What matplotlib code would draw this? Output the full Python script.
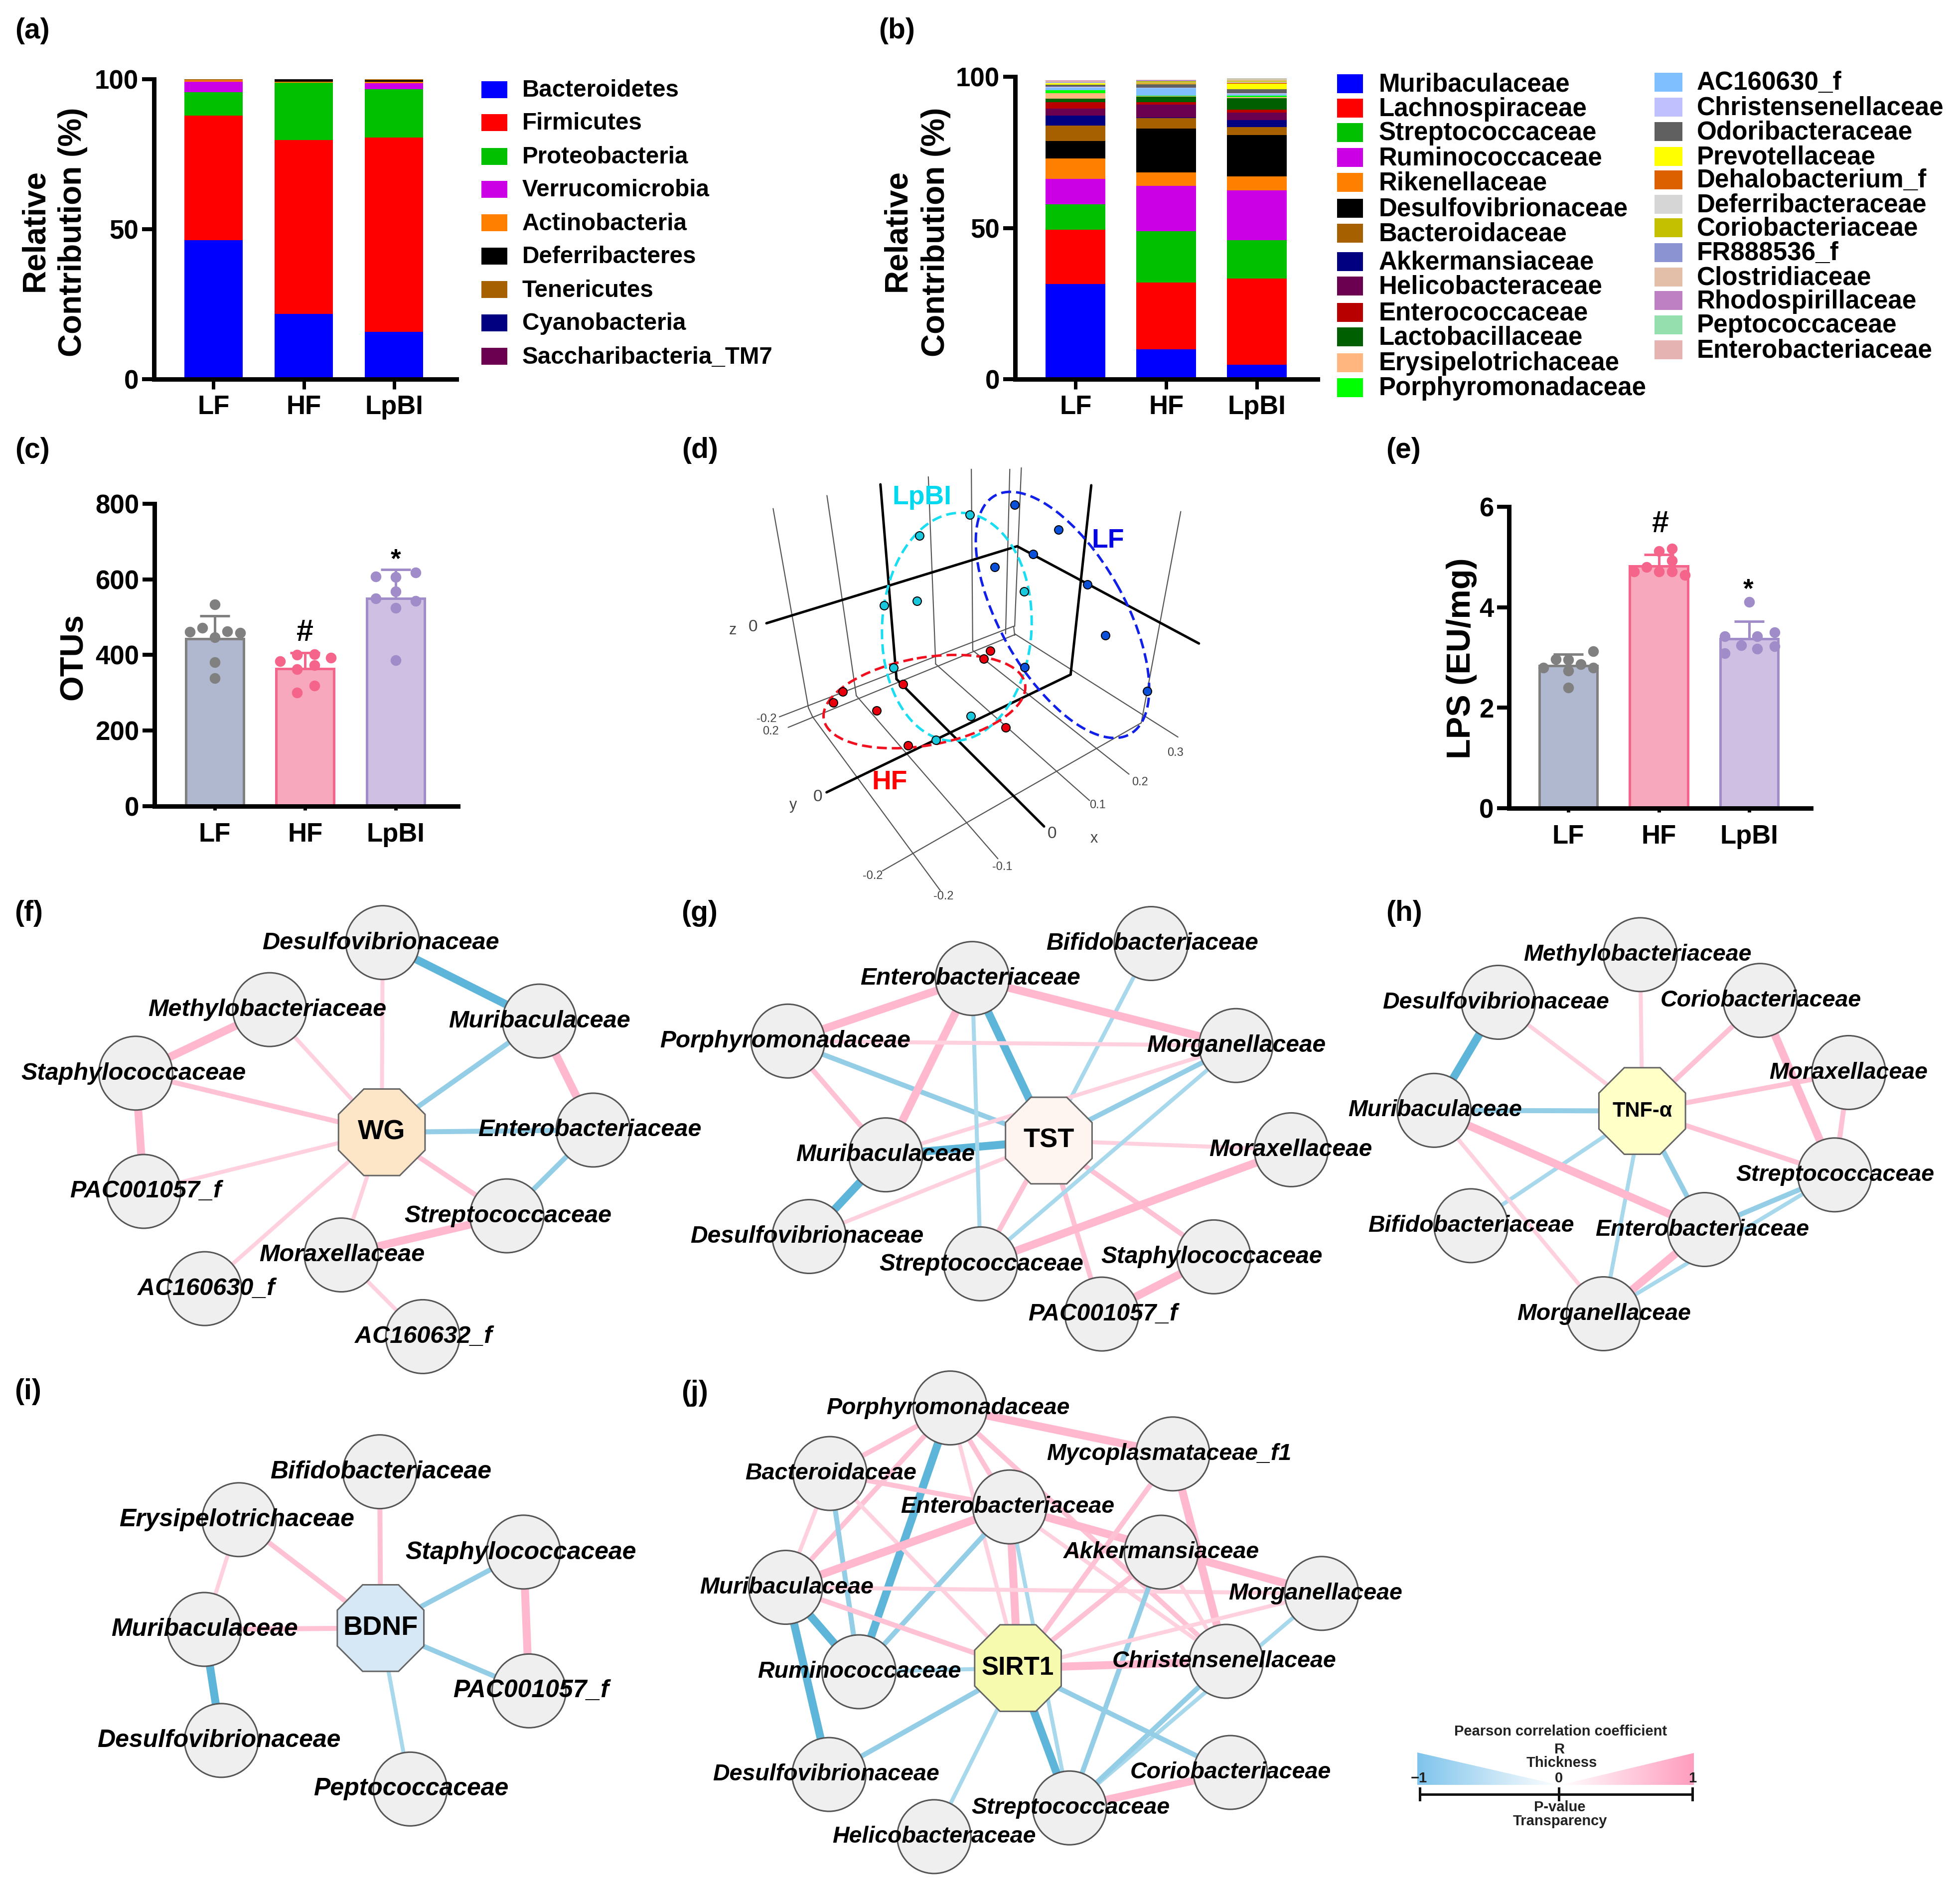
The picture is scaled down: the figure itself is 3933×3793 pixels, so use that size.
import numpy as np
import matplotlib
matplotlib.use('Agg')
import matplotlib.pyplot as plt
from matplotlib.patches import Ellipse, Polygon, Circle, Rectangle
from matplotlib.colors import LinearSegmentedColormap

plt.rcParams['font.family'] = ['Liberation Sans', 'DejaVu Sans']
W, H = 3933, 3793
PX = 0.72  # points per pixel at dpi 100

groups = ['LF', 'HF', 'LpBI']

# (a) phylum cumulative tops
phyla = ['Bacteroidetes', 'Firmicutes', 'Proteobacteria', 'Verrucomicrobia', 'Actinobacteria',
         'Deferribacteres', 'Tenericutes', 'Cyanobacteria', 'Saccharibacteria_TM7']
phyla_colors = ['#0000FF', '#FF0000', '#00C000', '#CC00E5', '#FF8000', '#000000', '#A66000', '#000080', '#6B0050']
phyla_LF = [46.4, 87.9, 95.7, 99.2, 99.7, 99.7, 100, 100, 100]
phyla_HF = [21.8, 79.8, 98.8, 98.8, 99.2, 100, 100, 100, 100]
phyla_Lp = [15.8, 80.6, 96.6, 98.7, 99.2, 99.6, 100, 100, 100]
phyla_legend_y = [179.5, 246, 314, 380, 447, 514, 581, 648, 715]

# (b) family cumulative tops
families = ['Muribaculaceae', 'Lachnospiraceae', 'Streptococcaceae', 'Ruminococcaceae', 'Rikenellaceae',
            'Desulfovibrionaceae', 'Bacteroidaceae', 'Akkermansiaceae', 'Helicobacteraceae', 'Enterococcaceae',
            'Lactobacillaceae', 'Erysipelotrichaceae', 'Porphyromonadaceae', 'AC160630_f', 'Christensenellaceae',
            'Odoribacteraceae', 'Prevotellaceae', 'Dehalobacterium_f', 'Deferribacteraceae', 'Coriobacteriaceae',
            'FR888536_f', 'Clostridiaceae', 'Rhodospirillaceae', 'Peptococcaceae', 'Enterobacteriaceae']
family_colors = ['#0000FF', '#FF0000', '#00C000', '#CC00E5', '#FF8000', '#000000', '#A66000', '#000080', '#6B0050',
                 '#B80000', '#005F00', '#FFB77F', '#00FF00', '#7FBFFF', '#C0C0FF', '#606060', '#FFFF00', '#DD6000',
                 '#D6D6D6', '#C4C000', '#8C93D3', '#E3BEA8', '#BF7FC3', '#95DFAF', '#E6B3B3']
family_LF = [31.4, 49.4, 57.9, 66.3, 73, 78.7, 83.8, 87.2, 89.5, 91.6, 92.8, 94.5, 95.6, 96.4, 96.7, 97.4, 97.8, 97.9,
             98.0, 98.1, 98.2, 98.5, 98.6, 98.7, 98.9]
family_HF = [9.9, 31.9, 49, 64, 68.4, 82.9, 86.4, 86.5, 90.8, 91.6, 93.4, 93.5, 93.8, 96.2, 96.4, 97.6, 97.7, 97.8,
             98.0, 98.5, 98.6, 98.7, 98.8, 98.9, 99.0]
family_Lp = [4.8, 33.2, 46, 62.4, 67, 80.8, 83.4, 85.6, 88.1, 89.1, 92.9, 93.3, 93.7, 94.3, 94.5, 95.8, 97.7, 98.1,
             98.3, 98.6, 98.7, 99.1, 99.2, 99.3, 99.5]
fam_legend_y1 = [168, 217, 266, 316, 366, 418, 468, 525, 574, 627, 676, 728, 778]
fam_legend_y2 = [165, 215, 264, 314, 361, 410, 457, 507, 556, 603, 652, 702]

# (c) OTUs
otu_mean = [442, 364, 550]
otu_err = [503, 406, 626]
otu_dots = [
    [(0, 534), (-.137, 471), (-.275, 461), (.14, 462), (.28, 459), (0, 446), (0, 380), (0, 338)],
    [(-.09, 400), (.1, 401), (.285, 393), (-.278, 383), (.1, 373), (-.09, 362), (.1, 318), (-.09, 300)],
    [(-.22, 608), (0, 606), (.22, 618), (0, 568), (-.22, 550), (.22, 543), (0, 524), (0, 386)],
]
# (e) LPS
lps_mean = [2.84, 4.82, 3.37]
lps_err = [3.06, 5.05, 3.72]
lps_dots = [
    [(.277, 3.12), (-.137, 2.97), (0, 2.96), (-.277, 2.80), (.14, 2.87), (.277, 2.80), (0, 2.74), (0, 2.40)],
    [(0, 5.12), (.143, 5.17), (.143, 4.93), (-.134, 4.80), (-.274, 4.71), (0, 4.71), (.143, 4.71), (.287, 4.64)],
    [(0, 4.11), (.28, 3.50), (-.27, 3.42), (.09, 3.42), (-.09, 3.24), (.28, 3.22), (.09, 3.17), (-.27, 3.08)],
]
bar_fill = ['#B0B8CF', '#F7A8BC', '#CFC0E3']
bar_edge = ['#808080', '#F5648A', '#A08CC8']

# (d) PCoA points (crop coordinates of the zoomed panel)
pcoa_LF = [(978, 253), (1104, 335), (1030, 416), (921, 459), (1186, 517), (1237, 685), (1006, 790), (1357, 870)]
pcoa_Lp = [(850, 285), (705, 355), (1005, 540), (698, 571), (605, 586), (632, 793), (852, 953), (753, 1032)]
pcoa_HF = [(908, 736), (889, 763), (658, 847), (486, 872), (459, 907), (583, 934), (952, 990), (673, 1050)]
box_thin = [((287, 265), (388, 925)), ((388, 925), (400, 955)), ((441, 222), (525, 885)), ((731, 160), (752, 780)),
            ((854, 135), (858, 735)), ((964, 135), (952, 680)), ((997, 130), (978, 655)),
            ((1453, 275), (1340, 975)), ((305, 955), (975, 655)), ((330, 990), (980, 682)), ((975, 655), (978, 685)),
            ((400, 955), (765, 1530)), ((525, 885), (930, 1425)), ((752, 780), (1192, 1232)),
            ((858, 735), (1305, 1145)), ((978, 680), (1445, 1022)), ((600, 1465), (1340, 975))]
box_thick = [((594, 185), (640, 830)), ((1197, 188), (1138, 815)), ((640, 830), (1062, 1318)),
             ((440, 1205), (1138, 815)), ((268, 645), (985, 390)), ((985, 390), (1505, 712))]
box_labels = [('z', 172, 668, 22), ('0', 230, 657, 24), ('y', 345, 1248, 22), ('0', 415, 1220, 24),
              ('x', 1205, 1358, 22), ('0', 1085, 1343, 24), ('0.3', 1438, 1075, 17), ('0.2', 1337, 1172, 17),
              ('0.1', 1215, 1248, 17), ('-0.1', 942, 1452, 17), ('-0.2', 572, 1482, 17), ('-0.2', 775, 1550, 17),
              ('-0.2', 268, 963, 17), ('0.2', 280, 1003, 17)]

# Networks: crop box, nodes, label centres, edges (level sign = correlation sign)
edge_col = {1: '#FFD0DE', 2: '#FFC2D5', 3: '#FFB8CE', -1: '#A8D8EC', -2: '#93CDE6', -3: '#5DB5D9'}
edge_w = {1: 8, 2: 10, 3: 16}
nets = [
 dict(box=(0, 1780, 1400, 1000), hub='WG', hub_col='#FDE6C8', hub_fs=40, lab_fs=35, hub_xy=(858, 772),
      nodes={'Desulfovibrionaceae': (860, 175), 'Muribaculaceae': (1212, 422), 'Enterobacteriaceae': (1333, 765),
             'Streptococcaceae': (1139, 1035), 'Moraxellaceae': (767, 1158), 'AC160632_f': (950, 1415),
             'AC160630_f': (460, 1264), 'PAC001057_f': (323, 958), 'Staphylococcaceae': (305, 586),
             'Methylobacteriaceae': (606, 386)},
      labels={'Desulfovibrionaceae': (855, 177), 'Muribaculaceae': (1212, 422), 'Enterobacteriaceae': (1325, 765),
              'Streptococcaceae': (1142, 1035), 'Moraxellaceae': (768, 1158), 'AC160632_f': (952, 1415),
              'AC160630_f': (463, 1264), 'PAC001057_f': (327, 958), 'Staphylococcaceae': (300, 587),
              'Methylobacteriaceae': (600, 386)},
      edges=[('WG', 'Desulfovibrionaceae', 1), ('WG', 'Methylobacteriaceae', 1), ('WG', 'Staphylococcaceae', 2),
             ('WG', 'PAC001057_f', 1), ('WG', 'AC160630_f', 1), ('WG', 'Moraxellaceae', 1),
             ('WG', 'Streptococcaceae', 2), ('WG', 'Enterobacteriaceae', -2), ('WG', 'Muribaculaceae', -2),
             ('Desulfovibrionaceae', 'Muribaculaceae', -3), ('Muribaculaceae', 'Enterobacteriaceae', 3),
             ('Enterobacteriaceae', 'Streptococcaceae', -2), ('Streptococcaceae', 'Moraxellaceae', 3),
             ('Moraxellaceae', 'AC160632_f', 1), ('Methylobacteriaceae', 'Staphylococcaceae', 3),
             ('Staphylococcaceae', 'PAC001057_f', 3)]),
 dict(box=(1300, 1780, 1450, 1000), hub='TST', hub_col='#FFF5F0', hub_fs=39, lab_fs=34.5, hub_xy=(870, 798),
      nodes={'Bifidobacteriaceae': (1092, 178), 'Enterobacteriaceae': (704, 288), 'Porphyromonadaceae': (304, 485),
             'Morganellaceae': (1276, 499), 'Moraxellaceae': (1396, 827), 'Muribaculaceae': (516, 843),
             'Desulfovibrionaceae': (350, 1100), 'Streptococcaceae': (722, 1186), 'Staphylococcaceae': (1228, 1164),
             'PAC001057_f': (985, 1344)},
      labels={'Bifidobacteriaceae': (1094, 178), 'Enterobacteriaceae': (700, 288), 'Porphyromonadaceae': (298, 485),
              'Morganellaceae': (1277, 499), 'Moraxellaceae': (1395, 827), 'Muribaculaceae': (516, 843),
              'Desulfovibrionaceae': (345, 1100), 'Streptococcaceae': (724, 1187), 'Staphylococcaceae': (1224, 1165),
              'PAC001057_f': (988, 1344)},
      edges=[('TST', 'Bifidobacteriaceae', -1), ('TST', 'Enterobacteriaceae', -3), ('TST', 'Porphyromonadaceae', -2),
             ('TST', 'Morganellaceae', -2), ('TST', 'Moraxellaceae', 1), ('TST', 'Staphylococcaceae', 2),
             ('TST', 'PAC001057_f', 2), ('TST', 'Streptococcaceae', 2), ('TST', 'Desulfovibrionaceae', 1),
             ('TST', 'Muribaculaceae', -3), ('Muribaculaceae', 'Morganellaceae', 1),
             ('Enterobacteriaceae', 'Porphyromonadaceae', 3), ('Enterobacteriaceae', 'Morganellaceae', 3),
             ('Enterobacteriaceae', 'Muribaculaceae', 3), ('Enterobacteriaceae', 'Streptococcaceae', -1),
             ('Porphyromonadaceae', 'Morganellaceae', 1), ('Porphyromonadaceae', 'Muribaculaceae', 2),
             ('Morganellaceae', 'Streptococcaceae', -1), ('Muribaculaceae', 'Desulfovibrionaceae', -3),
             ('Streptococcaceae', 'Moraxellaceae', 3), ('PAC001057_f', 'Staphylococcaceae', 3)]),
 dict(box=(2700, 1780, 1233, 1000), hub='TNF-α', hub_col='#FFFFC8', hub_fs=30, lab_fs=33.5, hub_xy=(757, 705),
      nodes={'Methylobacteriaceae': (752, 213), 'Desulfovibrionaceae': (390, 363), 'Coriobacteriaceae': (1058, 357),
             'Moraxellaceae': (1284, 584), 'Muribaculaceae': (226, 703), 'Streptococcaceae': (1248, 906),
             'Bifidobacteriaceae': (320, 1066), 'Enterobacteriaceae': (916, 1078), 'Morganellaceae': (658, 1343)},
      labels={'Methylobacteriaceae': (745, 214), 'Desulfovibrionaceae': (383, 363), 'Coriobacteriaceae': (1060, 358),
              'Moraxellaceae': (1284, 585), 'Muribaculaceae': (228, 703), 'Streptococcaceae': (1250, 906),
              'Bifidobacteriaceae': (320, 1066), 'Enterobacteriaceae': (910, 1078), 'Morganellaceae': (659, 1343)},
      edges=[('TNF-α', 'Methylobacteriaceae', 1), ('TNF-α', 'Desulfovibrionaceae', 1), ('TNF-α', 'Coriobacteriaceae', 2),
             ('TNF-α', 'Moraxellaceae', 2), ('TNF-α', 'Streptococcaceae', 2), ('TNF-α', 'Enterobacteriaceae', -2),
             ('TNF-α', 'Morganellaceae', -1), ('TNF-α', 'Muribaculaceae', -2), ('TNF-α', 'Bifidobacteriaceae', -1),
             ('Desulfovibrionaceae', 'Muribaculaceae', -3), ('Muribaculaceae', 'Enterobacteriaceae', 3),
             ('Muribaculaceae', 'Morganellaceae', 1), ('Coriobacteriaceae', 'Streptococcaceae', 3),
             ('Moraxellaceae', 'Streptococcaceae', 2), ('Enterobacteriaceae', 'Streptococcaceae', -2),
             ('Streptococcaceae', 'Morganellaceae', -1), ('Enterobacteriaceae', 'Morganellaceae', 3)]),
 dict(box=(0, 2750, 1350, 1040), hub='BDNF', hub_col='#D6E8F6', hub_fs=39, lab_fs=36, hub_xy=(887, 780),
      nodes={'Bifidobacteriaceae': (885, 307), 'Erysipelotrichaceae': (557, 452), 'Staphylococcaceae': (1220, 550),
             'Muribaculaceae': (476, 784), 'PAC001057_f': (1233, 970), 'Desulfovibrionaceae': (516, 1120),
             'Peptococcaceae': (956, 1267)},
      labels={'Bifidobacteriaceae': (887, 307), 'Erysipelotrichaceae': (552, 452), 'Staphylococcaceae': (1214, 552),
              'Muribaculaceae': (477, 784), 'PAC001057_f': (1237, 970), 'Desulfovibrionaceae': (510, 1120),
              'Peptococcaceae': (958, 1267)},
      edges=[('BDNF', 'Bifidobacteriaceae', 2), ('BDNF', 'Erysipelotrichaceae', 2), ('BDNF', 'Staphylococcaceae', -2),
             ('BDNF', 'PAC001057_f', -2), ('BDNF', 'Peptococcaceae', -1), ('BDNF', 'Muribaculaceae', 2),
             ('Erysipelotrichaceae', 'Muribaculaceae', 1), ('Muribaculaceae', 'Desulfovibrionaceae', -3),
             ('Staphylococcaceae', 'PAC001057_f', 3)]),
 dict(box=(1350, 2730, 1450, 1063), hub='SIRT1', hub_col='#F5FAAF', hub_fs=37, lab_fs=33.5, hub_xy=(749, 911),
      nodes={'Porphyromonadaceae': (602, 141), 'Mycoplasmataceae_f1': (1085, 277), 'Bacteroidaceae': (341, 335),
             'Enterobacteriaceae': (731, 434), 'Akkermansiaceae': (1060, 568), 'Muribaculaceae': (245, 672),
             'Morganellaceae': (1408, 690), 'Ruminococcaceae': (404, 922), 'Christensenellaceae': (1201, 891),
             'Desulfovibrionaceae': (339, 1226), 'Coriobacteriaceae': (1210, 1220), 'Streptococcaceae': (861, 1325),
             'Helicobacteraceae': (567, 1410)},
      labels={'Porphyromonadaceae': (597, 142), 'Mycoplasmataceae_f1': (1077, 277), 'Bacteroidaceae': (343, 335),
              'Enterobacteriaceae': (726, 434), 'Akkermansiaceae': (1060, 568), 'Muribaculaceae': (247, 672),
              'Morganellaceae': (1395, 690), 'Ruminococcaceae': (405, 922), 'Christensenellaceae': (1197, 891),
              'Desulfovibrionaceae': (333, 1226), 'Coriobacteriaceae': (1210, 1220), 'Streptococcaceae': (864, 1325),
              'Helicobacteraceae': (567, 1410)},
      edges=[('Porphyromonadaceae', 'Bacteroidaceae', 2), ('Porphyromonadaceae', 'Muribaculaceae', 2),
             ('Porphyromonadaceae', 'Ruminococcaceae', -3), ('Porphyromonadaceae', 'Enterobacteriaceae', 2),
             ('Porphyromonadaceae', 'SIRT1', 1), ('Porphyromonadaceae', 'Christensenellaceae', 2),
             ('Porphyromonadaceae', 'Mycoplasmataceae_f1', 3), ('Bacteroidaceae', 'Muribaculaceae', 1),
             ('Bacteroidaceae', 'Ruminococcaceae', -2), ('Bacteroidaceae', 'Enterobacteriaceae', 2),
             ('Bacteroidaceae', 'SIRT1', 1), ('Enterobacteriaceae', 'Muribaculaceae', 3),
             ('Enterobacteriaceae', 'Ruminococcaceae', -2), ('Enterobacteriaceae', 'SIRT1', 3),
             ('Enterobacteriaceae', 'Morganellaceae', 3), ('Enterobacteriaceae', 'Christensenellaceae', 1),
             ('Enterobacteriaceae', 'Streptococcaceae', -1), ('Muribaculaceae', 'Morganellaceae', 1),
             ('Muribaculaceae', 'SIRT1', 2), ('Muribaculaceae', 'Ruminococcaceae', -3),
             ('Muribaculaceae', 'Desulfovibrionaceae', -3), ('Mycoplasmataceae_f1', 'SIRT1', 2),
             ('Mycoplasmataceae_f1', 'Christensenellaceae', 3), ('Akkermansiaceae', 'SIRT1', 2),
             ('Akkermansiaceae', 'Streptococcaceae', -2), ('Akkermansiaceae', 'Christensenellaceae', 1),
             ('Morganellaceae', 'SIRT1', 1), ('Morganellaceae', 'Streptococcaceae', -1),
             ('Ruminococcaceae', 'SIRT1', -1), ('Christensenellaceae', 'SIRT1', 3),
             ('Christensenellaceae', 'Streptococcaceae', -2), ('SIRT1', 'Streptococcaceae', -3),
             ('SIRT1', 'Desulfovibrionaceae', -2), ('SIRT1', 'Helicobacteraceae', -1),
             ('SIRT1', 'Coriobacteriaceae', -2), ('Streptococcaceae', 'Coriobacteriaceae', 3)]),
]
panel_tags = [('(a)', 65, 62), ('(b)', 1800, 62), ('(c)', 65, 904), ('(d)', 1405, 904), ('(e)', 2816, 904),
              ('(f)', 58, 1833), ('(g)', 1404, 1833), ('(h)', 2818, 1833), ('(i)', 56, 2793), ('(j)', 1394, 2796)]

fig = plt.figure(figsize=(W / 100, H / 100), dpi=100, facecolor='white')
ov = fig.add_axes([0, 0, 1, 1], zorder=5)
ov.set_xlim(0, W)
ov.set_ylim(H, 0)
ov.axis('off')
ov.patch.set_alpha(0)


def make_axes(left, right, ytop, ybot, xl, yl, ticks, ticklen):
    ax = fig.add_axes([left / W, 1 - ybot / H, (right - left) / W, (ybot - ytop) / H], zorder=2)
    ax.set_xlim(*xl)
    ax.set_ylim(*yl)
    ax.set_xticks([0, 1, 2])
    ax.set_xticklabels(groups)
    ax.set_yticks(ticks)
    for s in ('top', 'right'):
        ax.spines[s].set_visible(False)
    for s in ('left', 'bottom'):
        ax.spines[s].set_linewidth(9 * PX)
    ax.tick_params(axis='y', length=24 * PX, width=8 * PX, pad=5, labelsize=38)
    ax.tick_params(axis='x', length=ticklen * PX, width=7 * PX, pad=24 - ticklen * .8, labelsize=38)
    for t in ax.get_xticklabels() + ax.get_yticklabels():
        t.set_fontweight('bold')
    ax.patch.set_alpha(0)
    return ax


def stacked(ax, tops, colors, width):
    for g, vals in enumerate(tops):
        prev = 0
        for v, c in zip(vals, colors):
            ax.bar(g, v - prev, width=width, bottom=prev, color=c, linewidth=0)
            prev = v


def dotbars(ax, means, errs, dots, width):
    for g in range(3):
        ax.bar(g, means[g], width=width, facecolor=bar_fill[g], edgecolor=bar_edge[g], linewidth=5 * PX, zorder=2)
        ax.errorbar(g, means[g], yerr=[[0], [errs[g] - means[g]]], color=bar_edge[g], elinewidth=5 * PX,
                    capsize=30 * PX, capthick=5 * PX, zorder=3)
        xs = [g + d[0] for d in dots[g]]
        ys = [d[1] for d in dots[g]]
        ax.scatter(xs, ys, s=(21.5 * PX) ** 2, color=bar_edge[g], linewidths=0, zorder=4, clip_on=False)


# (a)
ax = make_axes(309, 916, 159, 761, (-.66, 2.693), (0, 100), [0, 50, 100], 20)
stacked(ax, [phyla_LF, phyla_HF, phyla_Lp], phyla_colors, .65)
for name, c, y in zip(phyla, phyla_colors, phyla_legend_y):
    ov.add_patch(Rectangle((966, y - 17), 52, 34, color=c, lw=0))
    ov.text(1048, y + 2, name, fontsize=34.3, fontweight='bold', va='center', ha='left')
# (b)
ax = make_axes(2037, 2644, 154, 761, (-.668, 2.67), (0, 100), [0, 50, 100], 20)
stacked(ax, [family_LF, family_HF, family_Lp], family_colors, .66)
for name, c, y in zip(families[:13], family_colors[:13], fam_legend_y1):
    ov.add_patch(Rectangle((2683, y - 19), 52, 38, color=c, lw=0))
    ov.text(2767, y + 2, name, fontsize=36.8, fontweight='bold', va='center', ha='left')
for name, c, y in zip(families[13:], family_colors[13:], fam_legend_y2):
    ov.add_patch(Rectangle((3320, y - 19), 56, 38, color=c, lw=0))
    ov.text(3405, y + 2, name, fontsize=36.9, fontweight='bold', va='center', ha='left')
for x0 in (70, 1800):
    ov.text(x0, 463, 'Relative', fontsize=46, fontweight='bold', rotation=90, ha='center', va='center')
    ov.text(x0 + (76 if x0 == 70 else 78), 466, 'Contribution (%)', fontsize=46, fontweight='bold', rotation=90,
            ha='center', va='center')
# (c)
ax = make_axes(310, 919, 1011, 1617.5, (-.667, 2.69), (0, 800), [0, 200, 400, 600, 800], 8)
dotbars(ax, otu_mean, otu_err, otu_dots, .64)
ov.text(148, 1318, 'OTUs', fontsize=47, fontweight='bold', rotation=90, ha='center', va='center')
ov.text(612, 1270, '#', fontsize=44, fontweight='bold', ha='center', va='center')
ov.text(794, 1125, '*', fontsize=38, fontweight='bold', ha='center', va='center')
# (e)
ax = make_axes(3028, 3634, 1017, 1622, (-.656, 2.683), (0, 6), [0, 2, 4, 6], 8)
dotbars(ax, lps_mean, lps_err, lps_dots, .64)
ov.text(2933, 1321, 'LPS (EU/mg)', fontsize=48, fontweight='bold', rotation=90, ha='center', va='center')
ov.text(3332, 1052, '#', fontsize=44, fontweight='bold', ha='center', va='center')
ov.text(3508, 1185, '*', fontsize=38, fontweight='bold', ha='center', va='center')


# (d)
def dpt(p):
    return 1350 + p[0] * 1100 / 1568, 860 + p[1] * 950 / 1568


for a, b in box_thin:
    (x0, y0), (x1, y1) = dpt(a), dpt(b)
    ov.plot([x0, x1], [y0, y1], color='#555555', lw=2.2 * PX, solid_capstyle='round', zorder=1)
for a, b in box_thick:
    (x0, y0), (x1, y1) = dpt(a), dpt(b)
    ov.plot([x0, x1], [y0, y1], color='#000000', lw=5 * PX, solid_capstyle='round', zorder=1)
for txt, zx, zy, fs in box_labels:
    x, y = dpt((zx, zy))
    ov.text(x, y, txt, fontsize=fs, color='#444444', ha='center', va='center')
for (cx, cy, a, b, ang, c) in [(1920, 1258, 150, 229, 3, '#19DDF0'), (2132, 1234, 275, 125, 60.4, '#1020E8'),
                               (1855, 1408, 205, 88, -10, '#F01020')]:
    ov.add_patch(Ellipse((cx, cy), 2 * a, 2 * b, angle=ang, fill=False, ec=c, lw=5 * PX, ls=(0, (4, 2)), zorder=2))
for pts, c in [(pcoa_HF, '#E8000C'), (pcoa_Lp, '#19C8DC'), (pcoa_LF, '#0A50D8')]:
    xy = np.array([dpt(p) for p in pts])
    ov.scatter(xy[:, 0], xy[:, 1], s=(17 * PX) ** 2, color=c, edgecolors='black', linewidths=2 * PX, zorder=3)
for txt, p, c in [('LpBI', (713, 228), '#00D8F0'), ('LF', (1245, 372), '#0000E0'), ('HF', (620, 1172), '#FF0000')]:
    x, y = dpt(p)
    ov.text(x, y, txt, fontsize=38.5, fontweight='bold', color=c, ha='center', va='center', zorder=4)


# networks
def octagon(cx, cy, R):
    ang = np.deg2rad(22.5 + 45 * np.arange(8))
    return np.c_[cx + R * np.cos(ang), cy + R * np.sin(ang)]


for net in nets:
    ox, oy, w, h = net['box']
    sx, sy = w / 1568, h / 1568
    P = {k: (ox + v[0] * sx, oy + v[1] * sy) for k, v in net['nodes'].items()}
    P[net['hub']] = (ox + net['hub_xy'][0] * sx, oy + net['hub_xy'][1] * sy)
    for a, b, lev in net['edges']:
        ov.plot([P[a][0], P[b][0]], [P[a][1], P[b][1]], color=edge_col[lev], lw=edge_w[abs(lev)] * PX,
                solid_capstyle='butt', zorder=6)
    for k, (x, y) in P.items():
        if k == net['hub']:
            continue
        ov.add_patch(Circle((x, y), 74, facecolor='#EFEFEF', edgecolor='#555555', lw=3 * PX, zorder=7))
    hx, hy = P[net['hub']]
    ov.add_patch(Polygon(octagon(hx, hy, 94), closed=True, facecolor=net['hub_col'], edgecolor='#666666',
                         lw=3 * PX, zorder=7))
    ov.text(hx, hy, net['hub'], fontsize=net['hub_fs'], fontweight='bold', ha='center', va='center', zorder=8)
    for k, v in net['labels'].items():
        ov.text(ox + v[0] * sx, oy + v[1] * sy, k, fontsize=net['lab_fs'], fontweight='bold', style='italic',
                ha='center', va='center', zorder=8)

# colour key
cm_b = LinearSegmentedColormap.from_list('b', ['#7FC4EC', '#FFFFFF'])
cm_p = LinearSegmentedColormap.from_list('p', ['#FFFFFF', '#FF9DBE'])
grad = np.linspace(0, 1, 256).reshape(1, -1)
im1 = ov.imshow(grad, extent=(2844, 3127, 3582, 3517), cmap=cm_b, aspect='auto', zorder=6)
im1.set_clip_path(Polygon([(2844, 3517), (2844, 3582), (3127, 3582)], transform=ov.transData))
im2 = ov.imshow(grad, extent=(3132, 3399, 3582, 3518), cmap=cm_p, aspect='auto', zorder=6)
im2.set_clip_path(Polygon([(3399, 3518), (3399, 3582), (3132, 3582)], transform=ov.transData))
ov.set_xlim(0, W)
ov.set_ylim(H, 0)
ov.plot([2849, 3396], [3601, 3601], color='#111111', lw=5 * PX, zorder=6)
for x in (2849, 3128, 3396):
    ov.plot([x, x], [3589, 3612], color='#111111', lw=5 * PX, zorder=6)
for txt, x, y in [('Pearson correlation coefficient', 3132, 3475), ('R', 3130, 3511), ('Thickness', 3134, 3538),
                  ('−1', 2847, 3569), ('0', 3128, 3569), ('1', 3396, 3569), ('P-value', 3130, 3627),
                  ('Transparency', 3130, 3655)]:
    ov.text(x, y, txt, fontsize=21, fontweight='bold', color='#222222', ha='center', va='center', zorder=8)

for txt, x, y in panel_tags:
    ov.text(x, y, txt, fontsize=41, fontweight='bold', ha='center', va='center', zorder=9)

fig.savefig('out.png', dpi=100, facecolor='white')
